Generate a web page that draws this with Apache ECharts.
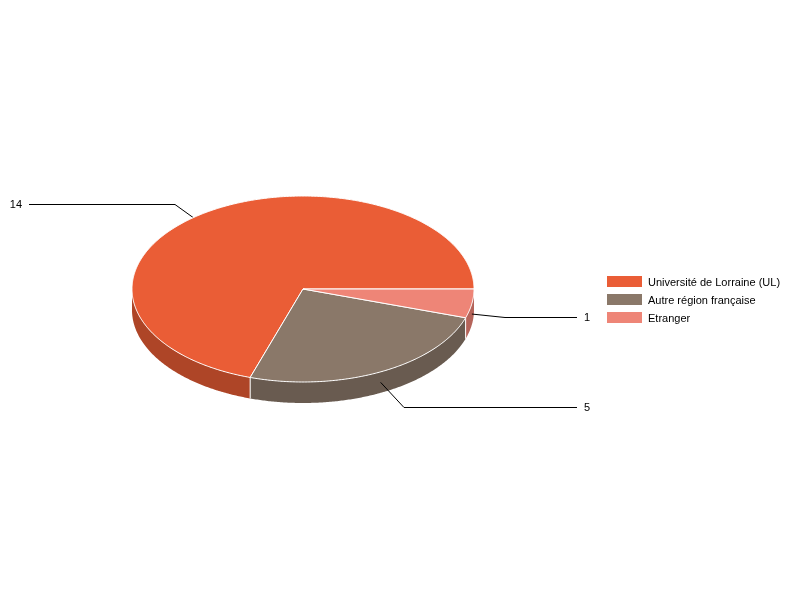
<!DOCTYPE html>
<html>
<head>
<meta charset="utf-8">
<style>html,body{margin:0;padding:0;background:#fff}#c{width:800px;height:600px}</style>
<script src="https://cdn.jsdelivr.net/npm/echarts@6/dist/echarts.min.js"></script>
</head>
<body>
<div id="c"></div>
<script>
const categories = ['Université de Lorraine (UL)', 'Autre région française', 'Etranger'];
const values = [14, 5, 1];
const topColors = ['#EA5D36', '#8A7869', '#EE8577'];
const wallColors = ['#AE4527', '#695B50', '#B5645A'];

// Pie projection (pixels) and leader-line layout
const CX = 303, CY = 289, RX = 171, RY = 93, DEPTH = 21;
const elbows = [[175, 204.5], [404, 407.5], [505, 317.5]];
const leaderEnds = [29, 577, 577];
const labelX = [22, 584, 584];

const total = values.reduce((a, b) => a + b, 0);
const RAD = Math.PI / 180;
// Slices run counter-clockwise from due east; screen angles are clockwise-positive
const spans = [];
let used = 0;
values.forEach(v => {
  const sweep = v / total * 360;
  spans.push([360 - used - sweep, 360 - used]);
  used += sweep;
});
const pt = (deg, dy) => [CX + RX * Math.cos(deg * RAD), CY + RY * Math.sin(deg * RAD) + (dy || 0)];
const arc = (a, b, dy) => {
  const pts = [], n = Math.max(2, Math.ceil(Math.abs(b - a) * 2));
  for (let i = 0; i <= n; i++) pts.push(pt(a + (b - a) * i / n, dy));
  return pts;
};

function renderSlice(idx) {
  const [a, b] = spans[idx];
  const children = [];
  // Outer wall: visible only for the front half of the ellipse
  const wa = Math.max(a, 0), wb = Math.min(b, 180);
  if (wb > wa) {
    children.push({
      type: 'polygon', z2: 1,
      shape: { points: arc(wa, wb, 0).concat(arc(wb, wa, DEPTH)) },
      style: { fill: wallColors[idx] }
    });
  }
  // Leader line from the middle of the wall's mid angle
  const mid = (a + b) / 2;
  const s = pt(mid, DEPTH / 2), e = elbows[idx];
  children.push({
    type: 'polyline', z2: 3,
    shape: { points: [s, e, [leaderEnds[idx], e[1]]] },
    style: { stroke: '#000', lineWidth: 1, fill: null }
  });
  children.push({
    type: 'text', z2: 6,
    style: {
      x: labelX[idx], y: e[1] + 0.5, text: String(values[idx]),
      fill: '#000', font: '11px "Liberation Sans", Arial, sans-serif',
      align: labelX[idx] < CX ? 'right' : 'left', verticalAlign: 'middle'
    }
  });
  // Top face
  children.push({
    type: 'polygon', z2: 4,
    shape: { points: [[CX, CY]].concat(arc(a, b, 0)) },
    style: { fill: topColors[idx], stroke: '#fff', lineWidth: 1 }
  });
  // Vertical white separator where a slice boundary meets the visible wall
  if (a > 0 && a < 180) {
    const p = pt(a, 0);
    children.push({
      type: 'line', z2: 2,
      shape: { x1: p[0], y1: p[1], x2: p[0], y2: p[1] + DEPTH },
      style: { stroke: '#fff', lineWidth: 1 }
    });
  }
  return { type: 'group', children };
}

const chart = echarts.init(document.getElementById('c'), null, { renderer: 'canvas' });
chart.setOption({
  animation: false,
  backgroundColor: '#fff',
  legend: {
    orient: 'vertical', left: 607, top: 276,
    itemWidth: 35, itemHeight: 11, itemGap: 5.5,
    icon: 'rect', selectedMode: false, padding: 0,
    formatter: '{t|{name}}',
    textStyle: {
      color: '#000', fontSize: 11, fontFamily: '"Liberation Sans", Arial, sans-serif',
      rich: { t: { color: '#000', fontSize: 11, fontFamily: '"Liberation Sans", Arial, sans-serif', lineHeight: 14, verticalAlign: 'bottom', padding: [0, 0, 0, 1] } }
    },
    data: categories
  },
  series: categories.map((name, i) => ({
    type: 'custom',
    name,
    coordinateSystem: 'none',
    silent: true,
    animation: false,
    itemStyle: { color: topColors[i] },
    data: [values[i]],
    renderItem: () => renderSlice(i)
  }))
});
</script>
</body>
</html>
